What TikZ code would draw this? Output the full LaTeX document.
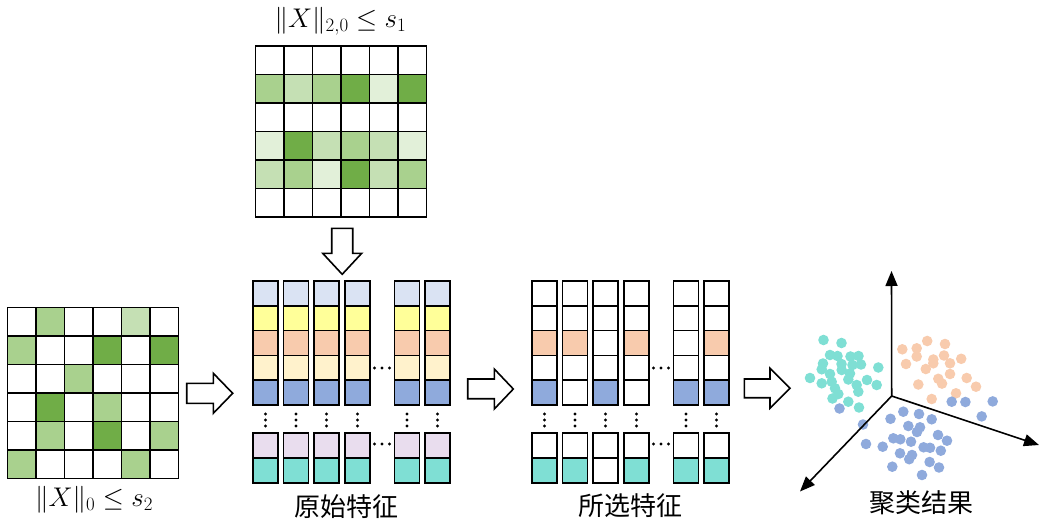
\RequirePackage{fix-cm}
\documentclass[tikz,border=0pt]{standalone}
\usepackage{fontspec}
\newfontfamily\cjk{Noto Sans CJK SC}
\usepackage{amsmath}
\usepackage{amssymb}
\usetikzlibrary{positioning}
\usetikzlibrary{arrows.meta}

\definecolor{gdark}{HTML}{70AD47}
\definecolor{gmed}{HTML}{A9D18E}
\definecolor{glight}{HTML}{C5E0B4}
\definecolor{gpale}{HTML}{E2F0D9}
\definecolor{fsky}{HTML}{DAE3F3}
\definecolor{fyellow}{HTML}{FFFF99}
\definecolor{fpeach}{HTML}{F8CBAD}
\definecolor{fcream}{HTML}{FFF2CC}
\definecolor{fblue}{HTML}{8FAADC}
\definecolor{flilac}{HTML}{E9DDEE}
\definecolor{fteal}{HTML}{7FDFD4}

\tikzset{
	cell/.style={draw=black, line width=1.6pt},
	hollowarrow/.style={draw=black, fill=white, line width=1.6pt, line join=miter},
	axis/.style={line width=1.6pt, -{Triangle[length=15pt,width=12pt]}},
	cnlabel/.style={font=\cjk\fontsize{26}{30}\selectfont, inner sep=0pt},
	mathlabel/.style={font=\fontsize{27}{32}\selectfont, inner sep=0pt},
	tealpt/.style={fill=fteal},
	orangept/.style={fill=fpeach},
	bluept/.style={fill=fblue}
}

\begin{document}
\begin{tikzpicture}[x=1pt,y=-1pt]
				
					\useasboundingbox (0,0) rectangle (1041,524);
					
					\begin{scope}[shift={(255.5,46)}]
						\foreach \row [count=\r from 0] in {{white,white,white,white,white,white},{gmed,glight,gmed,gdark,gpale,gdark},{white,white,white,white,white,white},{gpale,gdark,glight,gmed,glight,gpale},{glight,gmed,gpale,gdark,glight,gmed},{white,white,white,white,white,white}}
							\foreach \gc [count=\k from 0] in \row
								\draw[cell,fill=\gc] (\k*28.5,\r*28.5) rectangle ++(28.5,28.5);
					\end{scope}
					
					\begin{scope}[shift={(7.5,307.5)}]
						\foreach \row [count=\r from 0] in {{white,gmed,white,white,glight,white},{gmed,white,white,gdark,white,gdark},{white,white,gmed,white,white,white},{white,gdark,white,gmed,white,white},{white,gmed,white,gdark,white,gmed},{gmed,white,white,white,gmed,white}}
							\foreach \gc [count=\k from 0] in \row
								\draw[cell,fill=\gc] (\k*28.5,\r*28.5) rectangle ++(28.5,28.5);
					\end{scope}
					
					\node[mathlabel] (normtop) at (340.5,21) {$\|X\|_{2,0}\leq s_1$};
					\node[mathlabel] (normleft) at (94,500) {$\|X\|_{0}\leq s_2$};
					
					\foreach \xl in {253,283.5,314,345,394.5,425}{
						\foreach \fc [count=\r from 0] in {fsky,fyellow,fpeach,fcream,fblue}
							\draw[cell,fill=\fc] (\xl,281+\r*24.8) rectangle ++(25,24.8);
						\foreach \fc [count=\r from 0] in {flilac,fteal}
							\draw[cell,fill=\fc] (\xl,433+\r*25) rectangle ++(25,25);
						\foreach \dy in {414,420,426}
							\fill (\xl+12.5,\dy) circle (1.7);
					}
					\foreach \dx in {374.5,382,389.5}{
						\fill (\dx,368) circle (1.7);
						\fill (\dx,444) circle (1.7);
					}
					
					\foreach \xl/\pk/\bl/\tl in {532/fpeach/fblue/fteal,562.5/fpeach/white/fteal,593/white/fblue/white,624/fpeach/white/fteal,673.5/white/fblue/fteal,704/fpeach/fblue/fteal}{
						\foreach \fc [count=\r from 0] in {white,white,\pk,white,\bl}
							\draw[cell,fill=\fc] (\xl,281+\r*24.8) rectangle ++(25,24.8);
						\foreach \fc [count=\r from 0] in {white,\tl}
							\draw[cell,fill=\fc] (\xl,433+\r*25) rectangle ++(25,25);
						\foreach \dy in {414,420,426}
							\fill (\xl+12.5,\dy) circle (1.7);
					}
					\foreach \dx in {653.5,661,668.5}{
						\fill (\dx,368) circle (1.7);
						\fill (\dx,444) circle (1.7);
					}
					
					\node[cnlabel] (rawlabel) at (346.7,507) {原始特征};
					\node[cnlabel] (sellabel) at (630.8,505.5) {所选特征};
					\node[cnlabel] (clulabel) at (921.7,502.5) {聚类结果};
					
					\draw[hollowarrow] (331.7,228.3) -- (352.7,228.3) -- (352.7,253.3) -- (361.7,253.3) -- (342.2,274.3) -- (322.7,253.3) -- (331.7,253.3) -- cycle;
					\draw[hollowarrow] (186.7,383.3) -- (213.3,383.3) -- (213.3,373.3) -- (232.7,393.3) -- (213.3,413.3) -- (213.3,403.3) -- (186.7,403.3) -- cycle;
					\draw[hollowarrow] (467.7,379) -- (494.3,379) -- (494.3,369) -- (513.3,389) -- (494.3,409) -- (494.3,398.7) -- (467.7,398.7) -- cycle;
					\draw[hollowarrow] (744.3,379) -- (770,379) -- (770,368.3) -- (790,388.3) -- (770,408.3) -- (770,397.7) -- (744.3,397.7) -- cycle;
					
					\foreach \px/\py in {823.5/340,841.5/343,830/355,837.5/356,850.5/356.5,858.5/356,823/363.5,841.5/364,852.5/365,861/364.5,878.3/367.5,821.7/369.3,830/374,841.7/370,850/373.5,810/378,821.7/383.3,831.7/381.7,848.3/379.5,856.7/385,867/380,876.7/385,835/388.3,858.3/391.7,838.3/394,832.5/398.5,848.3/401.7,859/407.5}
						\fill[tealpt] (\px,\py) circle (5.3);
					\foreach \px/\py in {902.3/349.3,916.7/348.3,927.2/341,945/344,916.7/356.5,906/364,933.3/359.5,944/355.5,961.2/358.8,925.8/369,933.3/363.3,950/363.3,950/374,938.3/378.8,942/383.6,966.7/378,976/386.7,918.3/384.5,956/393.3,931.7/399}
						\fill[orangept] (\px,\py) circle (5.3);
					\foreach \px/\py in {839.5/408.5,863/424.5,890.5/418.8,903.3/411.7,919/414,931.7/419.3,908.3/426,920/427.3,917/432,938/435,947/440.7,893.3/438.3,900.3/439.3,911/441.7,923.6/447.3,930/447.8,940.8/450.7,866/444,882.7/446.7,900/453.3,912/455,909.2/459.2,929.6/462,939/467.5,892.3/466.7,922/475,951.7/401.7,965.4/402,992.7/401.4,981.7/416.4}
						\fill[bluept] (\px,\py) circle (5.3);
					
					\coordinate (o3d) at (891.7,396);
					\coordinate (zend) at (891.5,271);
					\coordinate (xend) at (1039,445);
					\coordinate (yend) at (800,491.5);
					\draw[axis] (o3d) -- (zend);
					\draw[axis] (o3d) -- (xend);
					\draw[axis] (o3d) -- (yend);

				\end{tikzpicture}
\end{document}
